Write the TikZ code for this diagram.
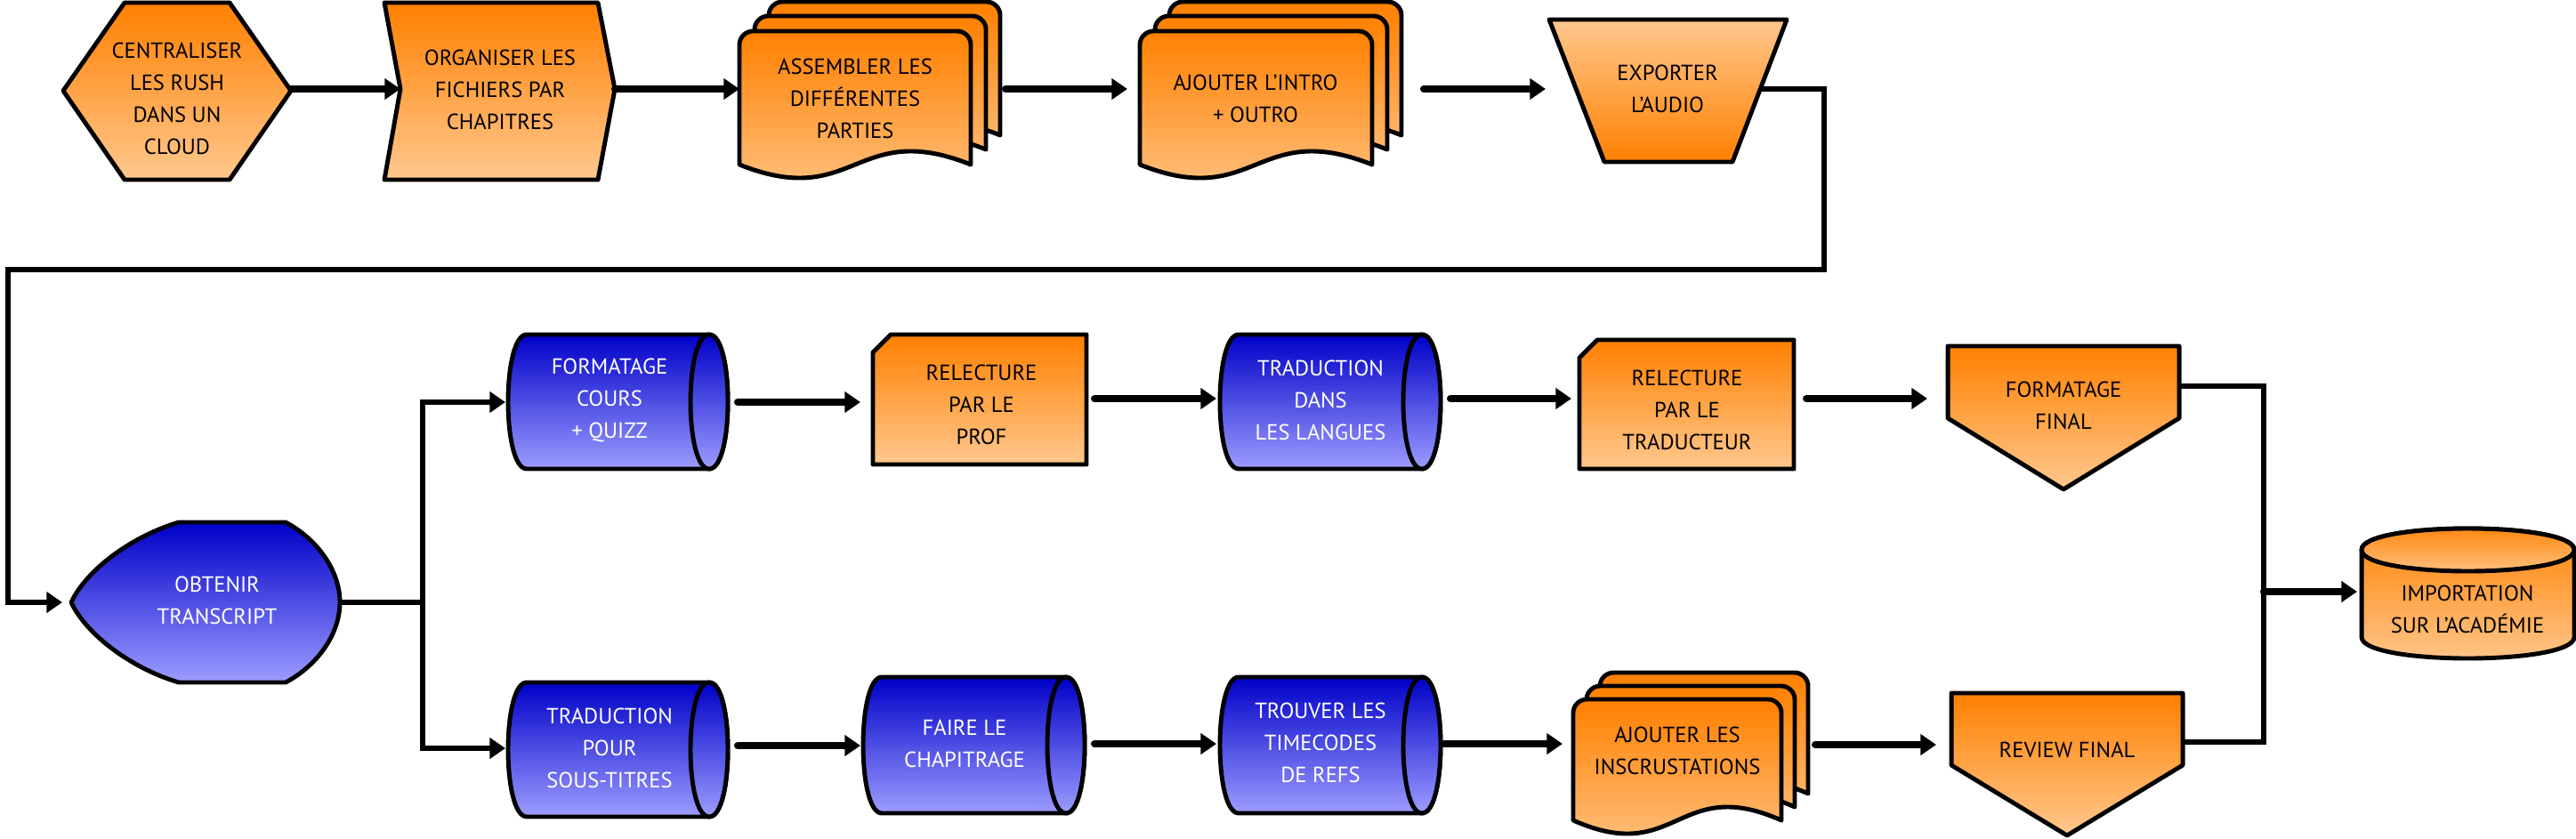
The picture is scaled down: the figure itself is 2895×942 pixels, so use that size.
\documentclass[tikz,border=0pt]{standalone}
\usepackage{fontspec}
\setmainfont{PT Sans}
\usetikzlibrary{arrows.meta}
\definecolor{orTop}{HTML}{FF8000}
\definecolor{orBot}{HTML}{FFC88E}
\definecolor{blTop}{HTML}{0000C8}
\definecolor{blBot}{HTML}{9C9CFF}
\tikzset{
  shp/.style={draw=black, line width=1.4pt, line join=round},
  orng/.style={shp, top color=orTop, bottom color=orBot},
  orngrev/.style={shp, top color=orBot, bottom color=orTop},
  blu/.style={shp, top color=blTop, bottom color=blBot},
  lbl/.style={align=center, inner sep=0pt, font=\fontsize{7}{10.2}\selectfont},
  wlbl/.style={lbl, text=white},
  arr/.style={line width=2.3pt, -{Triangle[length=5pt,width=6.5pt]}, line cap=round},
  link/.style={line width=1.7pt, line join=miter},
  linkarr/.style={link, -{Triangle[length=5pt,width=6.5pt]}},
}
% document shape: style, x, y, w, h
\newcommand\docshape[5]{%
  \path[#1, shift={(#2,#3)}] (0,#5) -- (0,15) .. controls (0,7) and (7,0) .. (15,0)
    -- ({#4-15},0) .. controls ({#4-7},0) and (#4,7) .. (#4,15) -- (#4,#5)
    .. controls ({0.5*#4},{#5-52}) and ({0.5*#4},{#5+52}) .. (0,#5) -- cycle;}
% horizontal cylinder: x0, y0, x1, y1
\newcommand\hcyl[4]{%
  \path[blu] ({#1+21},#2) -- ({#3-21},#2) .. controls ({#3+7},#2) and ({#3+7},#4) .. ({#3-21},#4)
    -- ({#1+21},#4) .. controls ({#1-7},#4) and ({#1-7},#2) .. cycle;
  \path[blu] ({#3-21},#2) .. controls ({#3+7},#2) and ({#3+7},#4) .. ({#3-21},#4)
    .. controls ({#3-49},#4) and ({#3-49},#2) .. cycle;}
\begin{document}
\begin{tikzpicture}[x=0.01cm, y=-0.01cm]
\useasboundingbox (0,0) rectangle (2895,942);

% ---------- top row ----------
\path[orng] (140,3) -- (258,3) -- (327,102) -- (258,202) -- (140,202) -- (71,102) -- cycle;
\node[lbl] (hex) at (199,111) {CENTRALISER\\LES RUSH\\DANS UN\\CLOUD};

\path[orng] (432,3) -- (672,3) -- (691,100) -- (672,202) -- (432,202) -- (450,100) -- cycle;
\node[lbl] (org) at (562,101) {ORGANISER LES\\FICHIERS PAR\\CHAPITRES};

\docshape{orng}{864}{2}{260}{150}
\docshape{orng}{848}{18}{260}{150}
\docshape{orng}{831}{35}{260}{150}
\node[lbl] (asm) at (961,111) {ASSEMBLER LES\\DIFFÉRENTES\\PARTIES};

\docshape{orng}{1314}{2}{261}{150}
\docshape{orng}{1298}{18}{261}{150}
\docshape{orng}{1281}{35}{261}{150}
\node[lbl] (intro) at (1411,111) {AJOUTER L'INTRO\\+ OUTRO};

\path[orngrev] (1741,22) -- (2008,22) -- (1947,182) -- (1803,182) -- cycle;
\node[lbl] (exp) at (1874,100) {EXPORTER\\L'AUDIO};

% ---------- obtenir transcript ----------
\path[blu] (201,587) -- (321,587) .. controls (355,605) and (382,640) .. (382,677)
  .. controls (382,714) and (355,749) .. (321,767) -- (201,767)
  .. controls (150,752) and (98,715) .. (80,677)
  .. controls (98,639) and (150,602) .. cycle;
\node[wlbl] (obt) at (244,675) {OBTENIR\\TRANSCRIPT};

% ---------- upper branch ----------
\hcyl{571}{376}{818}{527}
\node[wlbl] (fc) at (685,450) {FORMATAGE\\COURS\\+ QUIZZ};

\path[orng] (981,396) -- (1001,376) -- (1221,376) -- (1221,522) -- (981,522) -- cycle;
\node[lbl] (rp) at (1103,455) {RELECTURE\\PAR LE\\PROF};

\hcyl{1371}{376}{1619}{527}
\node[wlbl] (tsl) at (1484,450) {TRADUCTION\\DANS\\LES LANGUES};

\path[orng] (1775,402) -- (1795,382) -- (2016,382) -- (2016,527) -- (1775,527) -- cycle;
\node[lbl] (rt) at (1896,461) {RELECTURE\\PAR LE\\TRADUCTEUR};

\path[orng] (2189,389) -- (2449,389) -- (2449,470) -- (2319,550) -- (2189,470) -- cycle;
\node[lbl] (ff) at (2319,456) {FORMATAGE\\FINAL};

% ---------- lower branch ----------
\hcyl{571}{767}{818}{918}
\node[wlbl] (tst) at (685,841) {TRADUCTION\\POUR\\SOUS-TITRES};

\hcyl{970}{761}{1219}{914}
\node[wlbl] (fch) at (1084,836) {FAIRE LE\\CHAPITRAGE};

\hcyl{1371}{761}{1619}{914}
\node[wlbl] (ttc) at (1484,835) {TROUVER LES\\TIMECODES\\DE REFS};

\docshape{orng}{1798}{756}{234}{136}
\docshape{orng}{1783}{771}{234}{136}
\docshape{orng}{1768}{786}{234}{136}
\node[lbl] (ains) at (1885,844) {AJOUTER LES\\INSCRUSTATIONS};

\path[orng] (2193,779) -- (2453,779) -- (2453,860) -- (2323,939) -- (2193,860) -- cycle;
\node[lbl] (rf) at (2323,843) {REVIEW FINAL};

% ---------- importation ----------
\path[orng] (2654,618) .. controls (2654,586) and (2893,586) .. (2893,618) -- (2893,716)
  .. controls (2893,748) and (2654,748) .. (2654,716) -- cycle;
\path[orng] (2654,618) .. controls (2654,586) and (2893,586) .. (2893,618)
  .. controls (2893,650) and (2654,650) .. cycle;
\node[lbl] (imp) at (2773,685) {IMPORTATION\\SUR L'ACADÉMIE};

% ---------- connection points ----------
\coordinate (hex-e) at (327,100);   \coordinate (org-w) at (450,100);
\coordinate (org-e) at (691,100);   \coordinate (asm-w) at (831,100);
\coordinate (asm-e) at (1130,100);  \coordinate (intro-w) at (1267,100);
\coordinate (intro-e) at (1600,100);\coordinate (exp-w) at (1737,100);
\coordinate (exp-e) at (1978,100);
\coordinate (turn1) at (2050,303);  \coordinate (turn2) at (9,303);
\coordinate (obt-w) at (70,677);    \coordinate (obt-e) at (382,677);
\coordinate (split) at (475,677);
\coordinate (fc-w) at (568,452);    \coordinate (fc-e) at (829,452);
\coordinate (rp-w) at (967,452);    \coordinate (rp-e) at (1230,448);
\coordinate (tsl-w) at (1367,448);  \coordinate (tsl-e) at (1630,448);
\coordinate (rt-w) at (1766,448);   \coordinate (rt-e) at (2030,448);
\coordinate (ff-w) at (2166,448);   \coordinate (ff-e) at (2449,434);
\coordinate (tst-w) at (568,841);   \coordinate (tst-e) at (829,838);
\coordinate (fch-w) at (967,838);   \coordinate (fch-e) at (1230,836);
\coordinate (ttc-w) at (1367,836);  \coordinate (ttc-e) at (1623,836);
\coordinate (ains-w) at (1756,836); \coordinate (ains-e) at (2040,837);
\coordinate (rf-w) at (2176,837);   \coordinate (rf-e) at (2453,834);
\coordinate (join) at (2544,665);   \coordinate (imp-w) at (2649,665);

% ---------- connectors ----------
\draw[arr] (hex-e) -- (org-w);
\draw[arr] (org-e) -- (asm-w);
\draw[arr] (asm-e) -- (intro-w);
\draw[arr] (intro-e) -- (exp-w);
\draw[linkarr] (exp-e) -| (turn1) -- (turn2) |- (obt-w);
\draw[link] (obt-e) -- (split);
\draw[linkarr] (split) |- (fc-w);
\draw[linkarr] (split) |- (tst-w);
\draw[arr] (fc-e) -- (rp-w);
\draw[arr] (rp-e) -- (tsl-w);
\draw[arr] (tsl-e) -- (rt-w);
\draw[arr] (rt-e) -- (ff-w);
\draw[arr] (tst-e) -- (fch-w);
\draw[arr] (fch-e) -- (ttc-w);
\draw[arr] (ttc-e) -- (ains-w);
\draw[arr] (ains-e) -- (rf-w);
\draw[link] (ff-e) -| (join);
\draw[link] (rf-e) -| (join);
\draw[arr] (join) -- (imp-w);
\end{tikzpicture}
\end{document}
